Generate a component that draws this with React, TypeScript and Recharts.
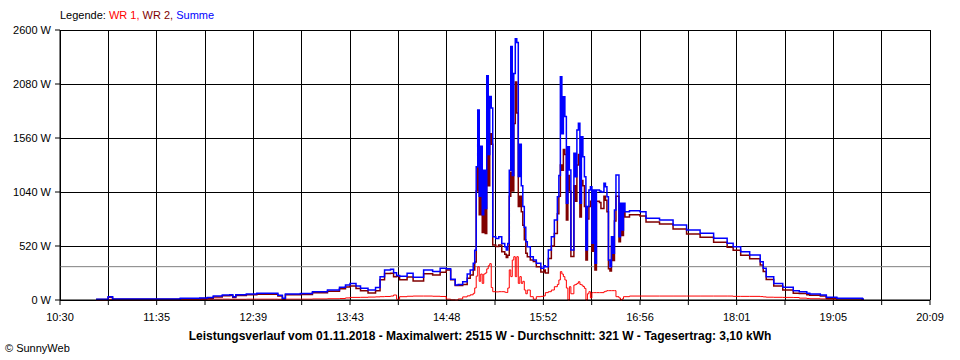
import { LineChart, Line, XAxis, YAxis, CartesianGrid, ReferenceLine } from 'recharts';

// Zeitstempel der Messpunkte (Uhrzeit) und die zugehörigen Leistungen in W
const TIMES = [
  '10:54', '11:02', '11:05', '11:30', '11:50', '12:03', '12:08', '12:12', '12:18', '12:23',
  '12:25', '12:27', '12:34', '12:41', '12:53', '12:55', '12:58', '13:00', '13:10', '13:18',
  '13:28', '13:36', '13:40', '13:43', '13:47', '13:50', '13:55', '14:00', '14:03', '14:06',
  '14:10', '14:12', '14:14', '14:16', '14:21', '14:25', '14:32', '14:38', '14:43', '14:47',
  '14:50', '14:53', '14:55', '14:58', '15:01', '15:03', '15:05', '15:06', '15:07', '15:08',
  '15:09', '15:10', '15:11', '15:12', '15:13', '15:14', '15:15', '15:16', '15:17', '15:18',
  '15:20', '15:22', '15:24', '15:26', '15:27', '15:28', '15:29', '15:30', '15:31', '15:32',
  '15:33', '15:34', '15:35', '15:36', '15:37', '15:38', '15:39', '15:40', '15:41', '15:43',
  '15:45', '15:47', '15:50', '15:52', '15:53', '15:55', '15:57', '15:59', '16:01', '16:02',
  '16:03', '16:04', '16:05', '16:06', '16:07', '16:08', '16:09', '16:10', '16:12', '16:13',
  '16:14', '16:15', '16:16', '16:17', '16:18', '16:19', '16:20', '16:21', '16:22', '16:23',
  '16:24', '16:25', '16:26', '16:27', '16:29', '16:30', '16:32', '16:33', '16:34', '16:35',
  '16:36', '16:37', '16:38', '16:39', '16:40', '16:42', '16:43', '16:44', '16:45', '16:46',
  '16:49', '16:56', '17:00', '17:09', '17:18', '17:27', '17:36', '17:45', '17:54', '17:58',
  '18:03', '18:09', '18:16', '18:18', '18:20', '18:25', '18:31', '18:38', '18:42', '18:47',
  '18:49', '18:56', '19:00', '19:07', '19:24', '19:25',
];

const SUMME = [
  8, 32, 10, 10, 16, 20, 25, 38, 48, 51,
  32, 51, 58, 64, 64, 45, 16, 58, 62, 80,
  96, 122, 145, 160, 135, 113, 96, 120, 225, 289,
  295, 262, 235, 228, 258, 218, 289, 275, 305, 300,
  200, 145, 150, 176, 250, 289, 353, 480, 1284, 1830,
  1000, 1480, 820, 1250, 880, 2160, 1400, 1960, 1850, 610,
  593, 610, 545, 513, 481, 545, 1250, 2440, 1200, 2180,
  2515, 2480, 1190, 1500, 1100, 900, 700, 560, 513, 417,
  385, 353, 305, 330, 321, 481, 610, 770, 995, 1200,
  2150, 1600, 1958, 1766, 931, 1476, 1252, 481, 1412, 1187,
  1637, 1701, 931, 1573, 1380, 1187, 481, 900, 1059, 1091,
  546, 1059, 353, 1060, 1050, 1040, 1124, 1091, 995, 385,
  321, 610, 450, 867, 1204, 610, 931, 674, 931, 851,
  860, 850, 787, 770, 722, 674, 642, 594, 546, 513,
  465, 433, 369, 305, 225, 160, 122, 90, 80, 64,
  58, 48, 26, 16, 10, 10,
];

const WR2 = [
  5, 26, 7, 7, 12, 15, 18, 30, 40, 44,
  25, 44, 50, 56, 56, 38, 10, 50, 54, 70,
  84, 108, 125, 135, 110, 88, 68, 90, 195, 255,
  258, 225, 228, 196, 222, 182, 252, 240, 268, 290,
  195, 140, 140, 150, 210, 240, 290, 365, 1050, 1500,
  820, 1200, 650, 1000, 640, 1830, 1100, 1600, 1500, 530,
  515, 530, 465, 440, 410, 430, 1000, 1230, 1050, 1700,
  2100, 1800, 900, 1000, 850, 720, 580, 450, 417, 385,
  370, 321, 270, 290, 260, 400, 520, 640, 830, 1000,
  1300, 1250, 1450, 1400, 770, 1200, 1050, 420, 1100, 950,
  1300, 1400, 800, 1150, 1100, 900, 385, 780, 900, 950,
  470, 920, 290, 950, 940, 880, 1000, 960, 850, 300,
  280, 520, 380, 760, 1000, 560, 850, 620, 850, 800,
  820, 810, 750, 732, 684, 636, 604, 556, 508, 478,
  430, 398, 336, 275, 198, 134, 97, 66, 62, 50,
  46, 38, 18, 10, 6, 6,
];

const WR1 = [
  3, 6, 3, 3, 4, 5, 7, 8, 8, 7,
  7, 7, 8, 8, 8, 7, 6, 8, 8, 10,
  12, 14, 20, 25, 25, 26, 28, 30, 32, 34,
  38, 48, 7, 32, 36, 38, 38, 36, 34, 8,
  2, 0, 10, 30, 40, 50, 64, 116, 230, 320,
  180, 250, 160, 250, 260, 300, 330, 350, 120, 80,
  78, 80, 80, 75, 72, 115, 290, 225, 385, 417,
  225, 417, 160, 225, 160, 180, 96, 60, 96, 32,
  8, 32, 35, 40, 71, 80, 96, 128, 150, 193,
  273, 250, 225, 193, 115, 0, 128, 60, 144, 150,
  160, 176, 150, 144, 130, 112, 0, 60, 80, 20,
  71, 71, 71, 71, 71, 71, 80, 85, 90, 90,
  90, 90, 90, 90, 32, 20, 0, 10, 32, 32,
  38, 38, 38, 38, 38, 38, 38, 38, 38, 35,
  35, 35, 33, 30, 27, 26, 25, 24, 18, 14,
  12, 10, 8, 4, null, null,
];

const Y_TICKS = [0, 520, 1040, 1560, 2080, 2600];
const X_LABELS = ['10:30', '11:35', '12:39', '13:43', '14:48', '15:52', '16:56', '18:01', '19:05', '20:09'];
const AVERAGE = 321;
const TITLE = 'Leistungsverlauf vom 01.11.2018 - Maximalwert: 2515 W - Durchschnitt: 321 W - Tagesertrag: 3,10 kWh';

function toMinutes(s: string) {
  const [h, m] = s.split(':').map(Number);
  return h * 60 + m;
}

const START = toMinutes('10:30');
const END = toMinutes('20:09');
const GRID_STEPS = 18;
const xTicks = Array.from({ length: GRID_STEPS + 1 }, (_, i) => START + (i * (END - START)) / GRID_STEPS);

const data = TIMES.map((t, i) => ({ t: toMinutes(t), summe: SUMME[i], wr2: WR2[i], wr1: WR1[i] }));

const font = '"Liberation Sans", Arial, sans-serif';

function xLabel(v: number) {
  const step = Math.round(((v - START) / (END - START)) * GRID_STEPS);
  return step % 2 === 0 ? X_LABELS[step / 2] : '';
}

export default function App() {
  return (
    <div style={{ position: 'absolute', left: 0, top: 0, width: 960, height: 360, background: '#fff', fontFamily: font }}>
      <LineChart width={960} height={360} data={data} margin={{ top: 30, right: 30, left: 0, bottom: 0 }}>
        <CartesianGrid stroke="#000" strokeWidth={1} shapeRendering="crispEdges" />
        <XAxis
          dataKey="t"
          type="number"
          domain={[START, END]}
          ticks={xTicks}
          interval={0}
          tickFormatter={xLabel}
          height={60}
          tickSize={5}
          tickMargin={8}
          stroke="#000"
          tick={{ fill: '#000', fontSize: 11, fontFamily: font }}
        />
        <YAxis
          type="number"
          domain={[0, 2600]}
          ticks={Y_TICKS}
          interval={0}
          tickFormatter={(v: number) => `${v} W`}
          width={60}
          tickSize={5}
          tickMargin={4}
          stroke="#000"
          tick={{ fill: '#000', fontSize: 11, fontFamily: font }}
        />
        <ReferenceLine y={AVERAGE} stroke="#808080" strokeWidth={1} />
        <Line dataKey="wr1" type="stepAfter" stroke="#ff0000" strokeWidth={1} dot={false} activeDot={false} isAnimationActive={false} />
        <Line dataKey="wr2" type="stepAfter" stroke="#800000" strokeWidth={1.5} dot={false} activeDot={false} isAnimationActive={false} />
        <Line dataKey="summe" type="stepAfter" stroke="#0000ff" strokeWidth={1.5} dot={false} activeDot={false} isAnimationActive={false} />
      </LineChart>
      <div style={{ position: 'absolute', left: 60, top: 9, fontSize: 11, whiteSpace: 'nowrap' }}>
        <span style={{ color: '#000' }}>Legende: </span>
        <span style={{ color: '#ff0000' }}>WR 1, </span>
        <span style={{ color: '#800000' }}>WR 2, </span>
        <span style={{ color: '#0000ff' }}>Summe</span>
      </div>
      <div style={{ position: 'absolute', left: 0, width: 960, top: 329, textAlign: 'center', fontSize: 12, fontWeight: 'bold', whiteSpace: 'nowrap' }}>
        {TITLE}
      </div>
      <div style={{ position: 'absolute', left: 5, top: 342, fontSize: 11, whiteSpace: 'nowrap' }}>© SunnyWeb</div>
    </div>
  );
}
